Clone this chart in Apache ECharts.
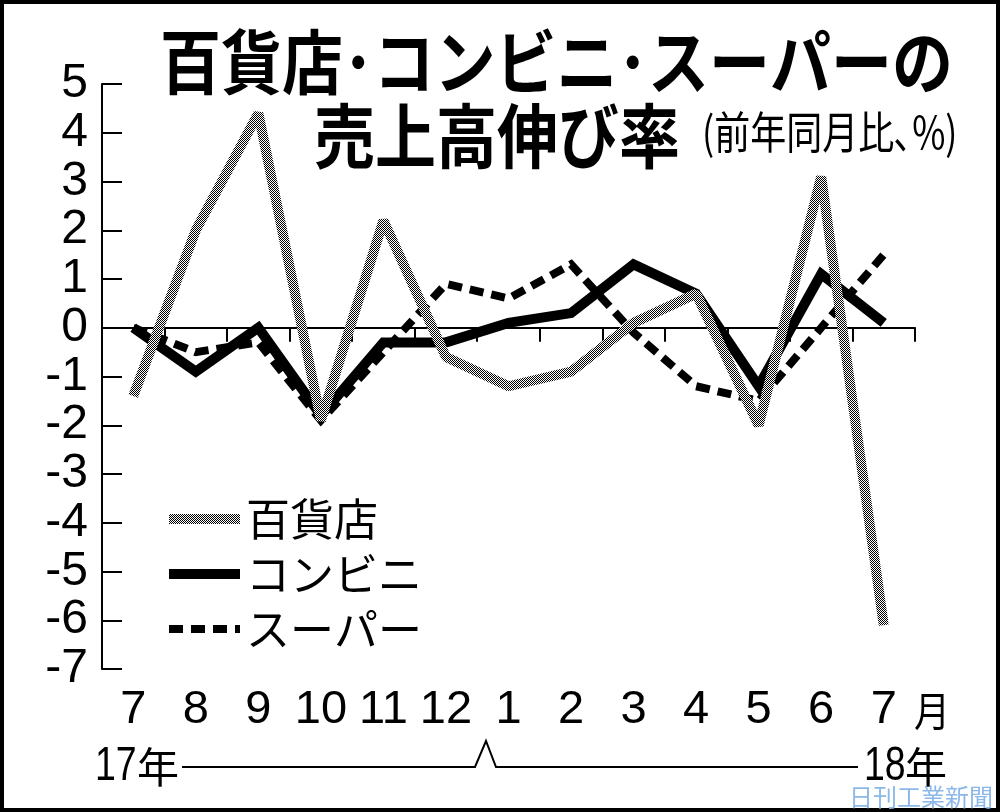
<!DOCTYPE html>
<html>
<head>
<meta charset="utf-8">
<script src="https://cdn.jsdelivr.net/npm/echarts@6/dist/echarts.min.js"></script>
<style>
html,body{margin:0;padding:0;background:#fff;}
#chart{width:1000px;height:812px;}
</style>
</head>
<body>
<div id="chart"></div>
<script>
// ---- data ----
const categories = ['7','8','9','10','11','12','1','2','3','4','5','6','7'];
const yTicks = [-7,-6,-5,-4,-3,-2,-1,0,1,2,3,4,5];
const deptStore = [-1.4, 2.0, 4.4, -1.9, 2.2, -0.6, -1.2, -0.9, 0.1, 0.7, -2.0, 3.1, -6.1];
const convStore = [0.0, -0.9, 0.0, -1.8, -0.3, -0.3, 0.1, 0.3, 1.3, 0.7, -1.2, 1.1, 0.1];
const superMkt  = [0.0, -0.5, -0.3, -1.9, -0.5, 0.9, 0.6, 1.3, -0.1, -1.2, -1.5, 0.0, 1.5];
const seriesNames = ['百貨店','コンビニ','スーパー'];

// checker pattern for the department-store line
const pc = document.createElement('canvas');
pc.width = 2; pc.height = 2;
const pctx = pc.getContext('2d');
pctx.fillStyle = '#fff'; pctx.fillRect(0,0,2,2);
pctx.fillStyle = '#000'; pctx.fillRect(0,0,1,1); pctx.fillRect(1,1,1,1);
const checker = {image: pc, repeat: 'repeat'};

const CJK = '"Noto Sans CJK JP", sans-serif';
const SANS = '"Liberation Sans", Arial, sans-serif';

const chart = echarts.init(document.getElementById('chart'), null, {renderer: 'canvas'});
chart.setOption({
  backgroundColor: '#fff',
  animation: false,
  grid: {left: 102, right: 85, top: 84, bottom: 143, containLabel: false},
  xAxis: [{
    type: 'category',
    data: categories,
    position: 'bottom',
    boundaryGap: true,
    axisLine: {onZero: true, lineStyle: {color: '#000', width: 2}},
    axisTick: {show: true, inside: false, length: 14, alignWithLabel: false, interval: 0, lineStyle: {color: '#000', width: 2}},
    axisLabel: {show: false},
    splitLine: {show: false}
  }, {
    type: 'category',
    data: categories,
    position: 'bottom',
    boundaryGap: true,
    axisLine: {show: false, onZero: false},
    axisTick: {show: false},
    axisLabel: {show: true, interval: 0, margin: 18, color: '#000', fontSize: 47, fontFamily: SANS},
    splitLine: {show: false}
  }],
  yAxis: {
    type: 'value',
    min: yTicks[0], max: yTicks[yTicks.length-1], interval: 1,
    axisLine: {show: true, lineStyle: {color: '#000', width: 2}},
    axisTick: {show: true, inside: true, length: 20, lineStyle: {color: '#000', width: 2}},
    axisLabel: {margin: 14, color: '#000', fontSize: 48, lineHeight: 40, fontFamily: SANS,
                showMinLabel: true, showMaxLabel: true, hideOverlap: false},
    splitLine: {show: false}
  },
  legend: {
    orient: 'vertical',
    left: 159, top: 492,
    itemWidth: 71, itemHeight: 12,
    itemGap: 11,
    data: seriesNames,
    selectedMode: false,
    itemStyle: {color: 'rgba(0,0,0,0)', borderWidth: 0},
    lineStyle: {width: 'inherit'},
    textStyle: {color: '#000', fontSize: 44, lineHeight: 44, fontFamily: CJK, padding: [0,0,0,1]}
  },
  series: [{
    name: seriesNames[0], type: 'line', data: deptStore, symbol: 'none', z: 4,
    lineStyle: {color: checker, width: 10, join: 'bevel', cap: 'butt'},
    itemStyle: {color: checker}
  }, {
    name: seriesNames[1], type: 'line', data: convStore, symbol: 'none', z: 3,
    lineStyle: {color: '#000', width: 10, join: 'miter', miterLimit: 2, cap: 'butt'},
    itemStyle: {color: '#000'}
  }, {
    name: seriesNames[2], type: 'line', data: superMkt, symbol: 'none', z: 2,
    lineStyle: {color: '#000', width: 8, type: [14, 8], join: 'miter', miterLimit: 2, cap: 'butt'},
    itemStyle: {color: '#000'}
  }],
  graphic: [
    {type: 'rect', shape: {x: 2, y: 2, width: 996, height: 808}, style: {fill: 'none', stroke: '#000', lineWidth: 4}, silent: true},
    {type: 'text', x: 160, y: 62, scaleY: 1.15, style: {text: '百貨店･コンビニ･スーパーの', font: 'bold 61px ' + CJK, fill: '#000', textAlign: 'left', textVerticalAlign: 'middle'}},
    {type: 'text', x: 314, y: 136, scaleY: 1.15, style: {text: '売上高伸び率', font: 'bold 61px ' + CJK, fill: '#000', textAlign: 'left', textVerticalAlign: 'middle'}},
    {type: 'text', x: 702, y: 132, scaleX: 0.9, scaleY: 1.12, style: {text: '(前年同月比､%)', font: '40px ' + CJK, fill: '#000', textAlign: 'left', textVerticalAlign: 'middle'}},
    {type: 'text', x: 914, y: 711, scaleX: 0.9, style: {text: '月', font: '40px ' + CJK, fill: '#000', textAlign: 'left', textVerticalAlign: 'middle'}},
    {type: 'text', x: 95, y: 767, scaleX: 0.78, style: {text: '17', font: '48px ' + SANS, fill: '#000', textAlign: 'left', textVerticalAlign: 'middle'}},
    {type: 'text', x: 137, y: 767, style: {text: '年', font: '42px ' + CJK, fill: '#000', textAlign: 'left', textVerticalAlign: 'middle'}},
    {type: 'text', x: 864, y: 767, scaleX: 0.78, style: {text: '18', font: '48px ' + SANS, fill: '#000', textAlign: 'left', textVerticalAlign: 'middle'}},
    {type: 'text', x: 905, y: 767, style: {text: '年', font: '42px ' + CJK, fill: '#000', textAlign: 'left', textVerticalAlign: 'middle'}},
    {type: 'polyline', shape: {points: [[182,767],[475,767],[486,741],[496,767],[858,767]]}, style: {stroke: '#000', lineWidth: 2, fill: 'none'}},
    {type: 'text', x: 849, y: 797, style: {text: '日刊工業新聞', font: '24px ' + CJK, fill: '#8cb8e8', textAlign: 'left', textVerticalAlign: 'middle'}}
  ]
});
</script>
</body>
</html>
